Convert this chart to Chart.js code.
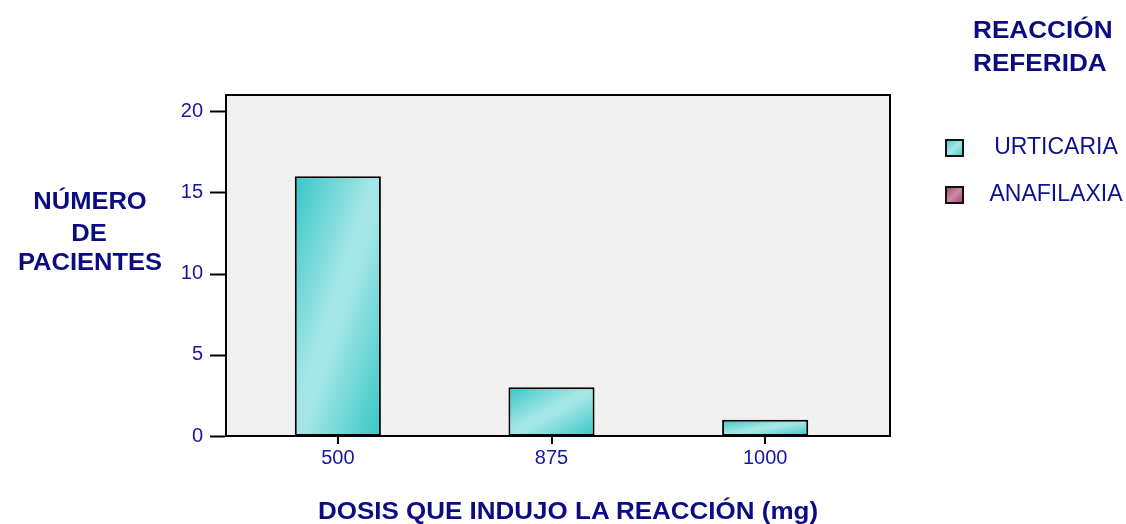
<!DOCTYPE html>
<html>
<head>
<meta charset="utf-8">
<script src="https://cdn.jsdelivr.net/npm/chart.js@4/dist/chart.umd.min.js"></script>
<style>
  body { margin: 0; background: #fff; }
  #wrap { position: relative; width: 1126px; height: 524px; overflow: hidden; font-family: "Liberation Sans", Arial, sans-serif; }
  #wrap canvas { position: absolute; left: 0; top: 0; }
  .t { position: absolute; white-space: nowrap; color: #0c0c82; line-height: 1; }
  .b { font-weight: bold; font-size: 23px; }
  .leg { font-size: 23px; color: #10108e; }
  .box { position: absolute; width: 15px; height: 14px; border: 2px solid #111; }
</style>
</head>
<body>
<div id="wrap">
  <canvas id="chart" width="1126" height="524"></canvas>
</div>
<script>
const doses = ['500', '875', '1000'];
const urticaria = [16, 3, 1];
const anafilaxia = [0, 0, 0];
const seriesNames = ['URTICARIA', 'ANAFILAXIA'];
const yTicks = [0, 5, 10, 15, 20];

const wrap = document.getElementById('wrap');

function addText(txt, cls, left, top, opts) {
  const d = document.createElement('div');
  d.className = 't ' + cls;
  d.textContent = txt;
  d.style.left = left + 'px';
  d.style.top = top + 'px';
  if (opts && opts.center) {
    d.style.transform = 'translateX(-50%) scaleX(' + (opts.sx || 1) + ')';
  } else if (opts && opts.sx) {
    d.style.transformOrigin = 'left top';
    d.style.transform = 'scaleX(' + opts.sx + ')';
  }
  wrap.appendChild(d);
  return d;
}

// axis titles and legend heading
addText('NÚMERO', 'b', 90, 190, {center: true, sx: 1.11});
addText('DE', 'b', 89, 222, {center: true, sx: 1.11});
addText('PACIENTES', 'b', 90, 251, {center: true, sx: 1.11});
addText('DOSIS QUE INDUJO LA REACCIÓN (mg)', 'b', 568, 500, {center: true, sx: 1.13});
const h1 = addText('REACCIÓN', 'b', 973, 18, {sx: 1.09});
const h2 = addText('REFERIDA', 'b', 973, 51, {sx: 1.09});
h1.style.fontSize = h2.style.fontSize = '24px';

// legend items
const boxFills = [
  'linear-gradient(135deg, #4fcfcf, #a6e8e8 50%, #4fcfcf)',
  'linear-gradient(135deg, #a24d76, #cc8aa8 50%, #a24d76)'
];
const legTops = [135, 182];
const boxTops = [139, 186];
seriesNames.forEach(function (name, i) {
  const b = document.createElement('div');
  b.className = 'box';
  b.style.left = '945px';
  b.style.top = boxTops[i] + 'px';
  b.style.background = boxFills[i];
  wrap.appendChild(b);
  addText(name, 'leg', 1056, legTops[i], {center: true});
});

function barGradient(ctx, value, dark, light) {
  const chart = ctx.chart;
  if (!chart.chartArea || !value) return dark;
  const xs = chart.scales.x, ys = chart.scales.y;
  const cx = xs.getPixelForValue(ctx.dataIndex);
  const w = 86;
  const x0 = cx - w / 2;
  const top = ys.getPixelForValue(value);
  const h = ys.getPixelForValue(0) - top;
  const k = 2 * w * h / (h * h + w * w);
  const g = chart.ctx.createLinearGradient(x0, top, x0 + h * k, top + w * k);
  g.addColorStop(0, dark);
  g.addColorStop(0.45, light);
  g.addColorStop(0.55, light);
  g.addColorStop(1, dark);
  return g;
}

const plotBox = {
  id: 'plotBox',
  beforeDatasetsDraw(chart) {
    const a = chart.chartArea, c = chart.ctx;
    const L = a.left - 5, R = a.right + 18;
    c.save();
    c.fillStyle = '#f0f0f0';
    c.fillRect(L, a.top, R - L, a.bottom - a.top);
    c.strokeStyle = '#000';
    c.lineWidth = 2;
    c.strokeRect(L, a.top, R - L, a.bottom - a.top);
    // y tick marks, detached from the frame
    chart.scales.y.ticks.forEach(function (t) {
      const y = Math.round(chart.scales.y.getPixelForValue(t.value)) + 0.5;
      c.beginPath();
      c.moveTo(a.left - 21, y);
      c.lineTo(a.left - 6, y);
      c.stroke();
    });
    c.restore();
  }
};

new Chart(document.getElementById('chart'), {
  type: 'bar',
  data: {
    labels: doses,
    datasets: [
      {
        label: seriesNames[0],
        data: urticaria,
        grouped: false,
        backgroundColor: function (ctx) { return barGradient(ctx, urticaria[ctx.dataIndex], '#36c6c6', '#a2e6e6'); },
        borderColor: '#000',
        borderWidth: 2,
        borderSkipped: false,
        barPercentage: 0.403,
        categoryPercentage: 1
      },
      {
        label: seriesNames[1],
        data: anafilaxia,
        grouped: false,
        backgroundColor: '#b8708f',
        borderColor: '#000',
        borderWidth: function (ctx) { return anafilaxia[ctx.dataIndex] ? 2 : 0; },
        barPercentage: 0.403,
        categoryPercentage: 1
      }
    ]
  },
  options: {
    responsive: false,
    animation: false,
    devicePixelRatio: 1,
    layout: { padding: { left: 0, right: 254, top: 95, bottom: 0 } },
    plugins: {
      legend: { display: false },
      tooltip: { enabled: false }
    },
    scales: {
      x: {
        afterFit: function (s) { s.height = 88; },
        grid: { display: true, drawOnChartArea: false, offset: false, tickLength: 8, color: '#000', lineWidth: 2 },
        border: { display: false },
        ticks: { color: '#1616a0', font: { family: 'Liberation Sans', size: 20 }, padding: 2 }
      },
      y: {
        min: 0,
        max: 21,
        afterFit: function (s) { s.width = 231; },
        afterBuildTicks: function (s) { s.ticks = yTicks.map(function (v) { return { value: v }; }); },
        grid: { display: false, drawTicks: false },
        border: { display: false },
        ticks: { color: '#1616a0', font: { family: 'Liberation Sans', size: 20 }, padding: 28 }
      }
    }
  },
  plugins: [plotBox]
});
</script>
</body>
</html>
